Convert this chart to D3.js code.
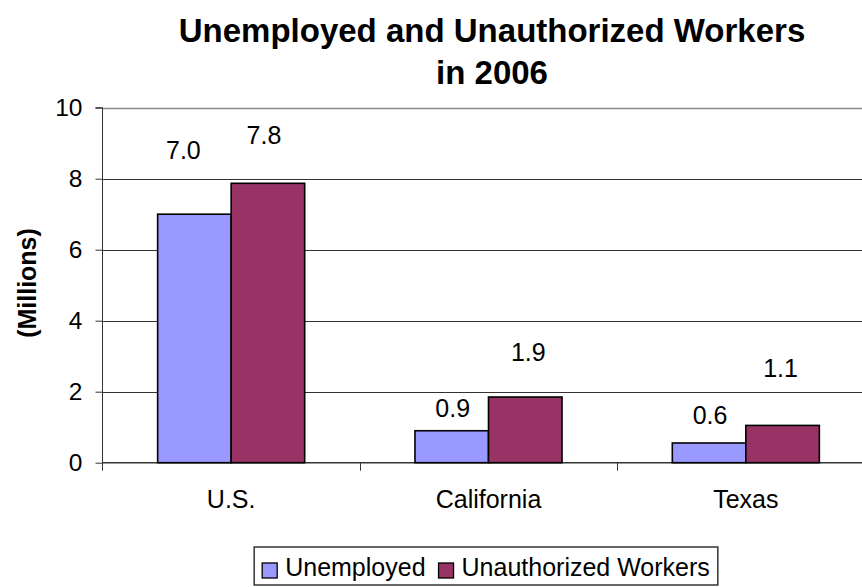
<!DOCTYPE html>
<html>
<head>
<meta charset="utf-8">
<script src="https://cdn.jsdelivr.net/npm/d3@7"></script>
<style>
  body { margin: 0; background: #fff; }
  svg { display: block; font-family: "Liberation Sans", Arial, sans-serif; }
</style>
</head>
<body>
<svg id="chart" width="862" height="587"></svg>
<script>
// data
const categories = ['U.S.', 'California', 'Texas'];
const seriesNames = ['Unemployed', 'Unauthorized Workers'];
const unemployed = [7.0, 0.9, 0.555];
const unauthorized = [7.87, 1.85, 1.05];
const unemployedLabels = ['7.0', '0.9', '0.6'];
const unauthorizedLabels = ['7.8', '1.9', '1.1'];
const yTicks = [0, 2, 4, 6, 8, 10];

// hand placed data labels in the original (pixels above bar top, x nudge)
const labelLift = [[64, 48], [23, 45], [28, 57]];
const labelNudge = [[-11, -4], [1, 3], [1, -2]];

const colors = ['#9999ff', '#993366'];

const width = 862, height = 587;
const plotLeft = 102.5, plotRight = 874.5, plotTop = 107.7, plotBottom = 462.7;
const fontSize = 25;

const svg = d3.select('#chart');

svg.append('rect')
  .attr('width', width)
  .attr('height', height)
  .attr('fill', '#fff');

const x = d3.scaleBand()
  .domain(categories)
  .range([plotLeft, plotRight]);

// gap between groups is 150% of a bar
const bw = x.bandwidth();
const gap = bw * 1.5 / 3.5;
const x1 = d3.scaleBand()
  .domain(seriesNames)
  .range([gap / 2, bw - gap / 2]);

const y = d3.scaleLinear()
  .domain([0, 10])
  .range([plotBottom, plotTop]);

// gridlines
svg.append('g')
  .selectAll('line')
  .data(yTicks.filter(d => d > 0))
  .enter()
  .append('line')
  .attr('x1', plotLeft)
  .attr('x2', plotRight)
  .attr('y1', d => Math.round(y(d)) + 0.5)
  .attr('y2', d => Math.round(y(d)) + 0.5)
  .attr('stroke', d => d === 10 ? '#8a8a8a' : '#333')
  .attr('stroke-width', d => d === 10 ? 1.6 : 1);

// y axis
const yAxis = d3.axisLeft(y)
  .tickValues(yTicks)
  .tickSize(7)
  .tickPadding(13)
  .tickFormat(d3.format('d'));

const gy = svg.append('g')
  .attr('transform', `translate(${plotLeft},0)`)
  .call(yAxis);
gy.select('.domain')
  .attr('d', `M-7,${plotTop}H0V${plotBottom + 8}`)
  .attr('stroke', '#333');
gy.selectAll('.tick line').attr('stroke', '#333');
gy.selectAll('.tick text')
  .attr('font-size', 24.5)
  .attr('fill', '#000');

// x axis line with ticks between the groups
const gx = svg.append('g');
gx.append('line')
  .attr('x1', plotLeft)
  .attr('x2', plotRight)
  .attr('y1', plotBottom)
  .attr('y2', plotBottom)
  .attr('stroke', '#333')
  .attr('stroke-width', 1.5);
gx.selectAll('.sep')
  .data(categories.slice(1))
  .enter()
  .append('line')
  .attr('x1', d => Math.round(x(d)) + 0.5)
  .attr('x2', d => Math.round(x(d)) + 0.5)
  .attr('y1', plotBottom)
  .attr('y2', plotBottom + 8)
  .attr('stroke', '#333');

gx.selectAll('.cat')
  .data(categories)
  .enter()
  .append('text')
  .attr('x', d => x(d) + bw / 2)
  .attr('y', 508)
  .attr('text-anchor', 'middle')
  .attr('font-size', fontSize)
  .text(d => d);

// bars
const series = [unemployed, unauthorized];
const labels = [unemployedLabels, unauthorizedLabels];

series.forEach((vals, s) => {
  svg.append('g')
    .selectAll('rect')
    .data(vals)
    .enter()
    .append('rect')
    .attr('x', (d, i) => x(categories[i]) + x1(seriesNames[s]))
    .attr('y', d => y(d))
    .attr('width', x1.bandwidth())
    .attr('height', d => plotBottom - y(d))
    .attr('fill', colors[s])
    .attr('stroke', '#000')
    .attr('stroke-width', 1.6);

  svg.append('g')
    .selectAll('text')
    .data(vals)
    .enter()
    .append('text')
    .attr('x', (d, i) => x(categories[i]) + x1(seriesNames[s]) + x1.bandwidth() / 2 + labelNudge[i][s])
    .attr('y', (d, i) => y(d) - labelLift[i][s] + 8.8)
    .attr('text-anchor', 'middle')
    .attr('font-size', fontSize)
    .text((d, i) => labels[s][i]);
});

// titles
const titleLines = ['Unemployed and Unauthorized Workers', 'in 2006'];
svg.selectAll('.title')
  .data(titleLines)
  .enter()
  .append('text')
  .attr('x', 492)
  .attr('y', (d, i) => 42 + i * 42)
  .attr('text-anchor', 'middle')
  .attr('font-size', 33)
  .attr('font-weight', 'bold')
  .text(d => d);

svg.append('text')
  .attr('transform', 'translate(36,283) rotate(-90)')
  .attr('text-anchor', 'middle')
  .attr('font-size', fontSize)
  .attr('font-weight', 'bold')
  .text('(Millions)');

// legend
const legend = svg.append('g');
const legendItems = legend.selectAll('g')
  .data(seriesNames)
  .enter()
  .append('g');

legendItems.append('rect')
  .attr('width', 15)
  .attr('height', 15)
  .attr('y', 563)
  .attr('fill', (d, i) => colors[i])
  .attr('stroke', '#000')
  .attr('stroke-width', 1.3);

legendItems.append('text')
  .attr('y', 576)
  .attr('font-size', fontSize)
  .text(d => d);

// lay items out in a row and center the box under the plot
let cursor = 0;
legendItems.each(function () {
  const item = d3.select(this);
  item.select('rect').attr('x', cursor);
  item.select('text').attr('x', cursor + 23);
  cursor += 23 + item.select('text').node().getComputedTextLength() + 13;
});
const legendW = cursor - 13 + 16;
const legendX = 486 - legendW / 2;
legendItems.attr('transform', `translate(${legendX + 8},0)`);
legend.insert('rect', ':first-child')
  .attr('x', legendX)
  .attr('y', 547)
  .attr('width', legendW)
  .attr('height', 38)
  .attr('fill', '#fff')
  .attr('stroke', '#333')
  .attr('stroke-width', 1.5);
</script>
</body>
</html>
